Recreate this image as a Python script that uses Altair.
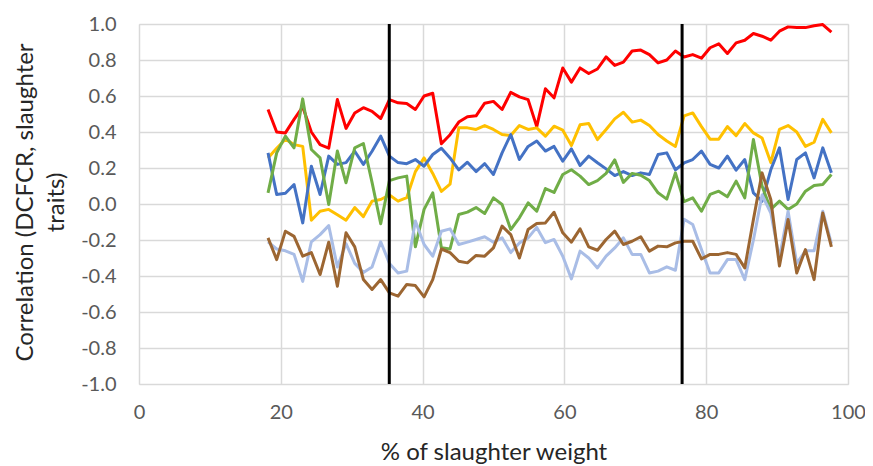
import altair as alt
import pandas as pd

# x positions (% of slaughter weight)
x_vals = [18.20, 19.42, 20.65, 21.87, 23.09, 24.31, 25.54, 26.76, 27.98, 29.20,
          30.43, 31.65, 32.87, 34.09, 35.32, 36.54, 37.76, 38.98, 40.21, 41.43,
          42.65, 43.87, 45.10, 46.32, 47.54, 48.76, 49.99, 51.21, 52.43, 53.65,
          54.88, 56.10, 57.32, 58.54, 59.77, 60.99, 62.21, 63.43, 64.66, 65.88,
          67.10, 68.32, 69.55, 70.77, 71.99, 73.21, 74.44, 75.66, 76.88, 78.10,
          79.33, 80.55, 81.77, 82.99, 84.22, 85.44, 86.66, 87.88, 89.11, 90.33,
          91.55, 92.77, 94.00, 95.22, 96.44, 97.66]

red = [0.525, 0.40, 0.395, 0.47, 0.54, 0.40, 0.33, 0.31, 0.58, 0.42,
       0.505, 0.535, 0.515, 0.475, 0.58, 0.562, 0.558, 0.525, 0.60, 0.615,
       0.335, 0.385, 0.455, 0.485, 0.49, 0.56, 0.57, 0.525, 0.62, 0.595,
       0.58, 0.43, 0.64, 0.59, 0.756, 0.677, 0.756, 0.725, 0.75, 0.817,
       0.77, 0.788, 0.85, 0.855, 0.83, 0.784, 0.80, 0.85, 0.817, 0.83,
       0.81, 0.868, 0.89, 0.836, 0.895, 0.91, 0.947, 0.932, 0.91, 0.96,
       0.984, 0.98, 0.98, 0.99, 0.997, 0.955]

yellow = [0.256, 0.31, 0.36, 0.33, 0.32, -0.09, -0.04, -0.03, -0.06, -0.09,
          -0.02, -0.07, 0.016, 0.025, 0.05, 0.016, 0.035, 0.18, 0.256, 0.17,
          0.07, 0.11, 0.423, 0.423, 0.414, 0.436, 0.414, 0.386, 0.38, 0.436,
          0.414, 0.423, 0.377, 0.432, 0.41, 0.325, 0.44, 0.447, 0.358, 0.414,
          0.473, 0.51, 0.455, 0.466, 0.436, 0.386, 0.35, 0.32, 0.49, 0.506,
          0.43, 0.36, 0.36, 0.43, 0.38, 0.447, 0.395, 0.367, 0.23, 0.414,
          0.436, 0.40, 0.32, 0.343, 0.47, 0.395]

blue = [0.284, 0.053, 0.06, 0.108, -0.105, 0.21, 0.053, 0.266, 0.22, 0.23,
        0.293, 0.22, 0.293, 0.377, 0.266, 0.23, 0.224, 0.247, 0.21, 0.275,
        0.31, 0.256, 0.19, 0.232, 0.18, 0.224, 0.164, 0.284, 0.386, 0.247,
        0.32, 0.35, 0.294, 0.32, 0.238, 0.306, 0.214, 0.266, 0.229, 0.195,
        0.158, 0.18, 0.158, 0.173, 0.164, 0.275, 0.284, 0.19, 0.228, 0.247,
        0.294, 0.22, 0.20, 0.266, 0.188, 0.247, 0.062, 0.016, 0.19, 0.312,
        0.025, 0.247, 0.284, 0.145, 0.312, 0.173]

green = [0.062, 0.284, 0.377, 0.312, 0.584, 0.303, 0.256, -0.003, 0.294, 0.118,
         0.312, 0.336, 0.12, -0.11, 0.13, 0.145, 0.155, -0.238, -0.03, 0.062,
         -0.243, -0.25, -0.058, -0.045, -0.02, -0.053, 0.034, -0.003, -0.142, -0.077,
         0.006, -0.04, 0.086, 0.064, 0.164, 0.19, 0.155, 0.108, 0.13, 0.17,
         0.245, 0.12, 0.17, 0.16, 0.13, 0.062, 0.027, 0.173, 0.013, 0.034,
         -0.04, 0.053, 0.071, 0.04, 0.127, 0.034, 0.358, 0.10, -0.03, 0.016,
         -0.03, 0.0, 0.071, 0.103, 0.108, 0.164]

lightblue = [-0.21, -0.25, -0.26, -0.28, -0.43, -0.21, -0.17, -0.12, -0.35, -0.22,
             -0.33, -0.38, -0.35, -0.21, -0.33, -0.383, -0.373, -0.095, -0.225, -0.29,
             -0.151, -0.138, -0.225, -0.212, -0.197, -0.182, -0.212, -0.188, -0.27, -0.216,
             -0.188, -0.13, -0.215, -0.197, -0.29, -0.416, -0.262, -0.30, -0.355, -0.29,
             -0.244, -0.188, -0.28, -0.28, -0.383, -0.373, -0.349, -0.368, -0.085, -0.114,
             -0.253, -0.383, -0.383, -0.309, -0.309, -0.42, -0.2, 0.05, -0.05, -0.3,
             -0.04, -0.33, -0.26, -0.26, -0.04, -0.22]

brown = [-0.188, -0.309, -0.151, -0.18, -0.29, -0.27, -0.392, -0.212, -0.457, -0.16,
         -0.238, -0.42, -0.475, -0.42, -0.494, -0.512, -0.447, -0.453, -0.516, -0.42,
         -0.25, -0.27, -0.318, -0.327, -0.286, -0.29, -0.244, -0.123, -0.17, -0.30,
         -0.142, -0.108, -0.105, -0.046, -0.16, -0.212, -0.138, -0.238, -0.257, -0.197,
         -0.151, -0.225, -0.207, -0.182, -0.262, -0.234, -0.238, -0.216, -0.207, -0.207,
         -0.305, -0.28, -0.28, -0.27, -0.28, -0.355, -0.086, 0.173, 0.025, -0.345,
         -0.086, -0.383, -0.253, -0.42, -0.05, -0.238]

vlines = [35.3, 76.6]

series = [
    ("red", red, "#ff0000"),
    ("yellow", yellow, "#ffc000"),
    ("blue", blue, "#4472c4"),
    ("green", green, "#70ad47"),
    ("lightblue", lightblue, "#a9bde6"),
    ("brown", brown, "#9c6632"),
]

FONT = "Lato"

x_scale = alt.Scale(domain=[0, 100], nice=False, zero=False)
y_scale = alt.Scale(domain=[-1, 1], nice=False, zero=False)

x_axis = alt.Axis(
    values=[0, 20, 40, 60, 80, 100], grid=True, gridColor="#d9d9d9", gridWidth=1.5,
    domain=False, ticks=False, labelFont=FONT, labelFontSize=20, labelColor="#595959",
    labelPadding=18, labelFlush=False,
    title="% of slaughter weight", titleFont=FONT, titleFontSize=24,
    titleFontWeight="normal", titleColor="#262626", titleY=68, titleBaseline="middle",
)
y_axis = alt.Axis(
    values=[-1.0, -0.8, -0.6, -0.4, -0.2, 0.0, 0.2, 0.4, 0.6, 0.8, 1.0],
    grid=True, gridColor="#d9d9d9", gridWidth=1.5, domain=False, ticks=False,
    labelFont=FONT, labelFontSize=20, labelColor="#595959", labelPadding=23,
    labelFlush=False,
    labelExpr="datum.value < 0 ? '-' + format(-datum.value, '.1f') : format(datum.value, '.1f')",
    title=["Correlation (DCFCR, slaughter", "traits)"], titleFont=FONT, titleFontSize=24,
    titleFontWeight="normal", titleColor="#262626", titleAngle=-90, titleAlign="center",
    titleBaseline="top", titleX=-126, titleY=178, titleLineHeight=31,
)

layers = []
for name, vals, col in series:
    df = pd.DataFrame({"x": x_vals, "y": vals})
    ch = alt.Chart(df).mark_line(color=col, strokeWidth=3, strokeJoin="round").encode(
        x=alt.X("x:Q", scale=x_scale, axis=x_axis),
        y=alt.Y("y:Q", scale=y_scale, axis=y_axis),
    )
    layers.append(ch)

vdf = pd.DataFrame({"x": vlines, "y": [-1.0] * len(vlines), "y1": [1.0] * len(vlines)})
rules = alt.Chart(vdf).mark_rule(color="#000000", strokeWidth=3).encode(
    x=alt.X("x:Q", scale=x_scale, axis=x_axis),
    y=alt.Y("y:Q", scale=y_scale, axis=y_axis),
    y2="y1:Q",
)

chart = alt.layer(*layers, rules).properties(
    width=709, height=360,
    autosize=alt.AutoSizeParams(type="none"),
    padding={"left": 131, "top": 16, "right": 17, "bottom": 80},
).configure_view(stroke=None).configure(background="#ffffff")

chart.save("out.html", embed_options={"renderer": "svg", "actions": False})
